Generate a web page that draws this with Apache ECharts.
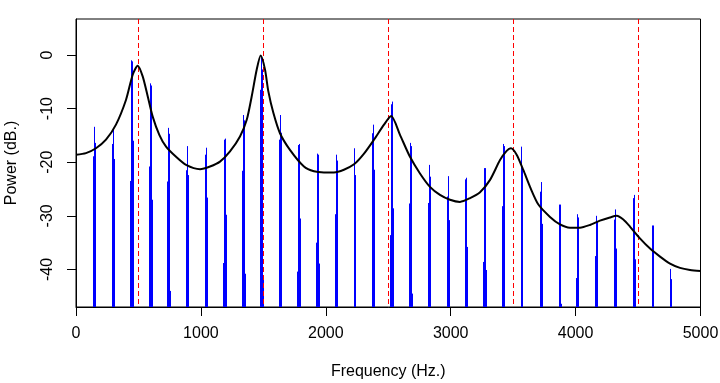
<!DOCTYPE html>
<html>
<head>
<meta charset="utf-8">
<script src="https://cdn.jsdelivr.net/npm/echarts@6/dist/echarts.min.js"></script>
<style>
html,body{margin:0;padding:0;background:#fff;}
#chart{width:720px;height:383px;}
</style>
</head>
<body>
<div id="chart"></div>
<script>
// Spectrum lines (harmonic clusters): frequency (Hz) and power (dB)
var lineHz = [
  140, 148, 156,
  292, 300, 308,
  436, 444, 452, 460,
  588, 596, 604, 612,
  732, 740, 748, 756,
  885, 893, 901,
  1037, 1045, 1053,
  1181, 1189, 1197, 1205,
  1333, 1341, 1349, 1357,
  1477, 1485, 1493, 1501,
  1629, 1637, 1645,
  1773, 1781, 1789, 1797,
  1925, 1933, 1941, 1949,
  2078, 2086, 2094,
  2230, 2238,
  2374, 2382, 2390,
  2518, 2526, 2534, 2542,
  2670, 2678, 2686, 2694,
  2822, 2830, 2838,
  2974, 2982, 2990,
  3118, 3126, 3134,
  3262, 3270, 3278, 3286,
  3415, 3423, 3431,
  3567, 3575,
  3719, 3727, 3735,
  3871, 3879, 3887,
  4007, 4015, 4023,
  4159, 4167, 4175,
  4311, 4319, 4327,
  4463, 4471, 4479,
  4615, 4623,
  4760, 4768
];
var lineDb = [
  -18.9, -13.4, -16.4,
  -16.6, -13.8, -19.4,
  -23.5, -1.0, -1.2, -16.0,
  -20.8, -5.3, -5.7, -27.0,
  -23.6, -13.6, -14.7, -44.0,
  -21.5, -17.0, -22.4,
  -18.6, -17.3, -26.6,
  -38.8, -15.8, -15.6, -29.8,
  -21.6, -11.2, -12.2, -40.8,
  -6.5, -0.3, -2.7, -41.6,
  -15.8, -11.2, -14.5,
  -40.4, -16.8, -16.6, -30.5,
  -35.0, -18.4, -18.6, -38.9,
  -29.7, -18.6, -19.7,
  -17.4, -22.4,
  -14.6, -13.0, -21.4,
  -33.6, -9.2, -8.7, -28.6,
  -27.7, -16.4, -17.0, -44.5,
  -27.6, -20.5, -22.7,
  -26.4, -22.6, -30.8,
  -23.2, -22.9, -35.8,
  -38.6, -21.1, -21.1, -40.1,
  -28.2, -16.6, -17.0,
  -17.1, -21.0,
  -25.5, -23.7, -31.5,
  -27.9, -27.9, -46.4,
  -41.6, -29.7, -30.3,
  -37.5, -30.0, -31.1,
  -30.7, -28.8, -36.1,
  -26.7, -26.1, -38.1,
  -31.8, -31.8,
  -39.9, -41.8
];

// Spectral envelope (black curve)
var envHz = [0, 80, 160, 240, 320, 400, 454, 494, 534, 574, 614, 667, 721, 801, 881, 993, 1073, 1153, 1233, 1313, 1367, 1407, 1447, 1479, 1513, 1540, 1580, 1633, 1713, 1825, 1905, 1985, 2065, 2145, 2226, 2306, 2386, 2466, 2523, 2594, 2674, 2754, 2834, 2914, 2994, 3074, 3155, 3235, 3315, 3395, 3448, 3482, 3528, 3582, 3635, 3702, 3795, 3875, 3955, 4035, 4115, 4195, 4275, 4329, 4382, 4435, 4515, 4596, 4676, 4756, 4836, 4916, 5000];
var envDb = [-18.6, -18.3, -17.4, -15.8, -13.0, -8.4, -3.7, -2.0, -4.0, -7.7, -11.5, -14.9, -17.1, -19.0, -20.5, -21.3, -20.8, -19.9, -18.0, -15.2, -12.1, -7.7, -2.7, -0.1, -2.7, -6.8, -10.8, -14.6, -17.7, -20.8, -21.7, -21.9, -21.9, -21.4, -20.4, -18.4, -15.8, -13.0, -11.4, -14.9, -19.0, -22.1, -24.6, -26.1, -27.0, -27.4, -26.7, -25.6, -23.3, -19.6, -17.9, -17.4, -18.6, -21.5, -24.6, -27.9, -30.2, -31.6, -32.2, -32.2, -31.7, -30.9, -30.3, -30.0, -30.7, -32.0, -34.2, -36.1, -37.6, -38.9, -39.7, -40.1, -40.3];

// Reference (formant) frequencies — dashed red lines
var formantHz = [500, 1500, 2500, 3500, 4500];

var xTicks = [0, 1000, 2000, 3000, 4000, 5000];
var yTicks = [-40, -30, -20, -10, 0];
var yMin = -47, yMax = 6.7;

var FONT = '"Liberation Sans", Arial, sans-serif';

var chart = echarts.init(document.getElementById('chart'), null, {renderer: 'canvas'});

var lineData = lineHz.map(function (f, i) { return [f, lineDb[i]]; });
var envData = envHz.map(function (f, i) { return [f, envDb[i]]; });

function snap(v) { return Math.round(v - 0.5) + 0.5; }

chart.setOption({
  animation: false,
  backgroundColor: '#ffffff',
  grid: {
    left: 76, right: 19.5, top: 19, bottom: 76,
    outerBoundsMode: 'none',
    containLabel: false,
    show: true, borderColor: '#000', borderWidth: 1, backgroundColor: 'transparent'
  },
  xAxis: {
    type: 'value',
    min: 0, max: 5000, interval: 1000,
    name: 'Frequency (Hz.)',
    nameLocation: 'middle',
    nameGap: 57,
    nameTextStyle: {fontFamily: FONT, fontSize: 16, color: '#000'},
    axisLine: {show: true, onZero: false, lineStyle: {color: '#000', width: 1}},
    axisTick: {show: true, length: 9, lineStyle: {color: '#000'}, customValues: xTicks},
    axisLabel: {fontFamily: FONT, fontSize: 16, color: '#000', margin: 19, customValues: xTicks,
      formatter: function (v) { return String(v); }},
    splitLine: {show: false}
  },
  yAxis: {
    type: 'value',
    min: yMin, max: yMax,
    name: 'Power (dB.)',
    nameLocation: 'middle',
    nameGap: 56,
    nameRotate: 90,
    nameTextStyle: {fontFamily: FONT, fontSize: 16, color: '#000'},
    axisLine: {show: true, onZero: false, lineStyle: {color: '#000', width: 1}},
    axisTick: {show: true, length: 9, lineStyle: {color: '#000'}, customValues: yTicks},
    axisLabel: {fontFamily: FONT, fontSize: 16, color: '#000', margin: 20, rotate: 90, customValues: yTicks,
      formatter: function (v) { return String(v); }},
    splitLine: {show: false}
  },
  series: [
    {
      type: 'custom',
      z: 1,
      data: lineData,
      clip: true,
      renderItem: function (params, api) {
        var top = api.coord([api.value(0), api.value(1)]);
        var base = api.coord([api.value(0), yMin]);
        var x = snap(top[0]);
        return {
          type: 'line',
          shape: {x1: x, y1: base[1], x2: x, y2: top[1]},
          style: {stroke: '#0000ff', lineWidth: 1}
        };
      }
    },
    {
      type: 'custom',
      z: 2,
      data: formantHz,
      clip: true,
      renderItem: function (params, api) {
        var f = api.value(0);
        var top = api.coord([f, yMax]);
        var base = api.coord([f, yMin]);
        var x = snap(top[0]);
        return {
          type: 'line',
          shape: {x1: x, y1: top[1], x2: x, y2: base[1]},
          style: {stroke: '#ff0000', lineWidth: 1, lineDash: [5, 3]}
        };
      }
    },
    {
      type: 'line',
      z: 3,
      data: envData,
      showSymbol: false,
      smooth: 0.25,
      lineStyle: {color: '#000', width: 2},
      silent: true
    }
  ]
});
</script>
</body>
</html>
